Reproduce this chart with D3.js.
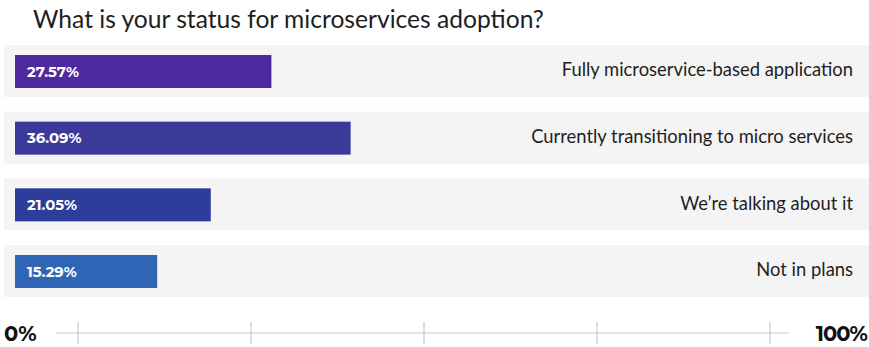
<!DOCTYPE html>
<html><head><meta charset="utf-8">
<script src="https://cdn.jsdelivr.net/npm/d3@7"></script>
<style>body{margin:0;background:#fff;}svg{display:block;}</style>
</head><body>
<script>
const title = "What is your status for microservices adoption?";
const categories = ["Fully microservice-based application","Currently transitioning to micro services","We’re talking about it","Not in plans"];
const values = [27.57, 36.09, 21.05, 15.29];
const barColors = ["#4f2a9e","#3b3a9b","#2d3d9c","#2e66b5"];
const axisTicks = [0, 25, 50, 75, 100];
const axisEndLabels = ["0%", "100%"];

const W = 869, H = 347;
const svg = d3.select("body").append("svg").attr("width", W).attr("height", H);

svg.append("text").attr("x", 33).attr("y", 28)
  .attr("font-family", "Lato").attr("font-size", 24.6).attr("fill", "#1e1e1e")
  .text(title);

const y = d3.scaleBand().domain(categories).range([45, 297]).paddingInner(0.22).paddingOuter(0);
const x = d3.scaleLinear().domain([0, 100]).range([15, 945]);

const rows = svg.append("g").selectAll("g").data(categories).join("g")
  .attr("transform", d => `translate(0,${y(d)})`);

rows.append("rect").attr("x", 4).attr("y", 0).attr("width", W - 4).attr("height", y.bandwidth()).attr("fill", "#f4f4f4");

rows.append("rect").attr("x", x(0)).attr("y", 10)
  .attr("width", (d, i) => x(values[i]) - x(0)).attr("height", 33)
  .attr("fill", (d, i) => barColors[i]);

rows.append("text").attr("x", 27).attr("y", 26.5).attr("dy", "0.35em")
  .attr("font-family", "Montserrat, 'Open Sans', sans-serif").attr("font-weight", 700).attr("font-size", 14.8)
  .attr("fill", "#fff").text((d, i) => values[i].toFixed(2) + "%");

rows.append("text").attr("x", 853).attr("y", 25).attr("dy", "0.35em").attr("text-anchor", "end")
  .attr("font-family", "Lato").attr("font-size", 18.4).attr("fill", "#1e1e1e").text(d => d);

// axis
const ax = d3.scaleLinear().domain([0, 100]).range([78, 770]);
const axisY = 333;
svg.append("line").attr("x1", 56).attr("x2", 789).attr("y1", axisY).attr("y2", axisY)
  .attr("stroke", "#c8c8c8").attr("stroke-width", 1.2);
svg.append("g").selectAll("line").data(axisTicks).join("line")
  .attr("x1", d => ax(d)).attr("x2", d => ax(d)).attr("y1", 322).attr("y2", 344)
  .attr("stroke", "#c8c8c8").attr("stroke-width", 1.2);

svg.append("text").attr("x", 4).attr("y", 341).attr("font-family", "Montserrat, 'Open Sans', sans-serif")
  .attr("font-weight", 700).attr("font-size", 21).attr("fill", "#111").text(axisEndLabels[0]);
svg.append("text").attr("x", 867).attr("y", 341).attr("text-anchor", "end").attr("font-family", "Montserrat, 'Open Sans', sans-serif")
  .attr("font-weight", 700).attr("font-size", 21).attr("letter-spacing", -1).attr("fill", "#111").text(axisEndLabels[1]);
</script>
</body></html>
